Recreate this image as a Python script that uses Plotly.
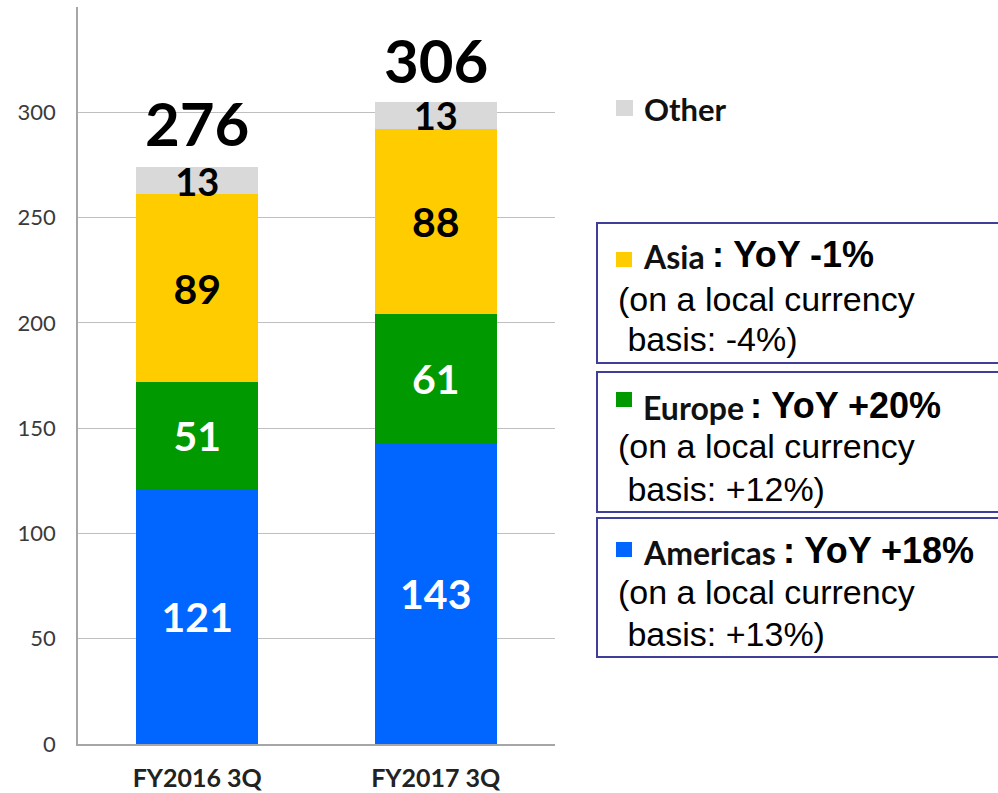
import plotly.graph_objects as go

categories = ["FY2016 3Q", "FY2017 3Q"]
americas = [121, 143]
europe = [51, 61]
asia = [89, 88]
other = [13, 13]
totals = [276, 306]
y_ticks = [0, 50, 100, 150, 200, 250, 300]

regions = ["Americas", "Europe", "Asia", "Other"]
yoy = [": YoY +18%", ": YoY +20%", ": YoY -1%"]
local_basis = ["basis: +13%)", "basis: +12%)", "basis: -4%)"]

colors = {"Americas": "#0066FF", "Europe": "#009900", "Asia": "#FFCC00", "Other": "#D9D9D9"}
text_colors = {"Americas": "white", "Europe": "white", "Asia": "black", "Other": "black"}
series = {"Americas": americas, "Europe": europe, "Asia": asia, "Other": other}

W, H = 998, 793
L, R, T, B = 78, 555, 7, 744


def px(x):
    return (x - L) / (R - L)


def py(y):
    return (B - y) / (B - T)


fig = go.Figure()
for reg in regions:
    fig.add_trace(go.Bar(
        x=categories, y=series[reg], name=reg,
        marker=dict(color=colors[reg], line=dict(width=0)),
        text=series[reg], texttemplate="%{text}",
        textposition="inside", insidetextanchor="middle",
        constraintext="none", textangle=0,
        textfont=dict(family="Lato", size=38 if reg == "Other" else 41,
                      color=text_colors[reg], weight="bold"),
        showlegend=False,
    ))

annotations = []
for c, t in zip(categories, totals):
    annotations.append(dict(x=c, y=t, xref="x", yref="y", text=f"<b>{t}</b>",
                            showarrow=False, yanchor="middle", yshift=40,
                            font=dict(family="Lato", size=60, color="black")))

shapes = []
BORDER = "#3F3F99"
# "Other" legend entry
shapes.append(dict(type="rect", xref="paper", yref="paper",
                   x0=px(616), x1=px(633), y0=py(116), y1=py(100),
                   fillcolor=colors["Other"], line=dict(width=0)))
annotations.append(dict(xref="paper", yref="paper", x=px(642), y=py(109),
                        xanchor="left", yanchor="middle", showarrow=False,
                        text="<b>Other</b>",
                        font=dict(family="Lato", size=31, color="#111111")))

boxes = [
    # region, box top, box bottom, line ys, square top, x of YoY text
    ("Asia", 223, 363, (254, 299, 339), 252, 710, yoy[2], local_basis[2]),
    ("Europe", 372, 512, (405, 446, 489), 392, 748, yoy[1], local_basis[1]),
    ("Americas", 518, 657, (550, 592, 634), 542, 781, yoy[0], local_basis[0]),
]
for reg, top, bot, ys, sq, yx, yy, basis in boxes:
    shapes.append(dict(type="rect", xref="paper", yref="paper",
                       x0=px(597), x1=px(1010), y0=py(bot), y1=py(top),
                       line=dict(color=BORDER, width=2), fillcolor="rgba(0,0,0,0)"))
    shapes.append(dict(type="rect", xref="paper", yref="paper",
                       x0=px(616), x1=px(632), y0=py(sq + 15), y1=py(sq),
                       fillcolor=colors[reg], line=dict(width=0)))
    annotations.append(dict(
        xref="paper", yref="paper", x=px(641), y=py(ys[0] + 2),
        xanchor="left", yanchor="middle", showarrow=False,
        text=f"<b>{reg}</b>",
        font=dict(family="Lato", size=32, color="#111111")))
    annotations.append(dict(
        xref="paper", yref="paper", x=px(yx), y=py(ys[0]),
        xanchor="left", yanchor="middle", showarrow=False,
        text=f"<b>{yy}</b>",
        font=dict(family="Liberation Sans, Arial", size=36, color="black")))
    annotations.append(dict(
        xref="paper", yref="paper", x=px(616), y=py(ys[1]),
        xanchor="left", yanchor="middle", showarrow=False,
        text="(on a local currency",
        font=dict(family="Liberation Sans, Arial", size=34, color="black")))
    annotations.append(dict(
        xref="paper", yref="paper", x=px(616), y=py(ys[2]),
        xanchor="left", yanchor="middle", showarrow=False,
        text=" " + basis,
        font=dict(family="Liberation Sans, Arial", size=34, color="black")))

fig.update_layout(
    barmode="stack", bargap=0.49,
    width=W, height=H, autosize=False,
    margin=dict(l=L, r=W - R, t=T, b=H - B, pad=0, autoexpand=False),
    paper_bgcolor="white", plot_bgcolor="white",
    annotations=annotations, shapes=shapes,
    xaxis=dict(showline=True, linecolor="#A6A6A6", linewidth=1.5, showgrid=False,
               ticks="", ticklabelstandoff=11, automargin=False,
               tickfont=dict(family="Lato", size=25, color="#222222", weight="bold")),
    yaxis=dict(range=[0, 350], tickvals=y_ticks, showline=True, linecolor="#A6A6A6",
               linewidth=1.5, showgrid=True, gridcolor="#BFBFBF", gridwidth=1,
               zeroline=False, ticks="", ticklabelstandoff=16, automargin=False,
               tickfont=dict(family="Lato", size=22, color="#3A3A3A")),
)

fig.write_html("out.html", config={"displayModeBar": False},
               post_script="document.body.style.margin='0';")
